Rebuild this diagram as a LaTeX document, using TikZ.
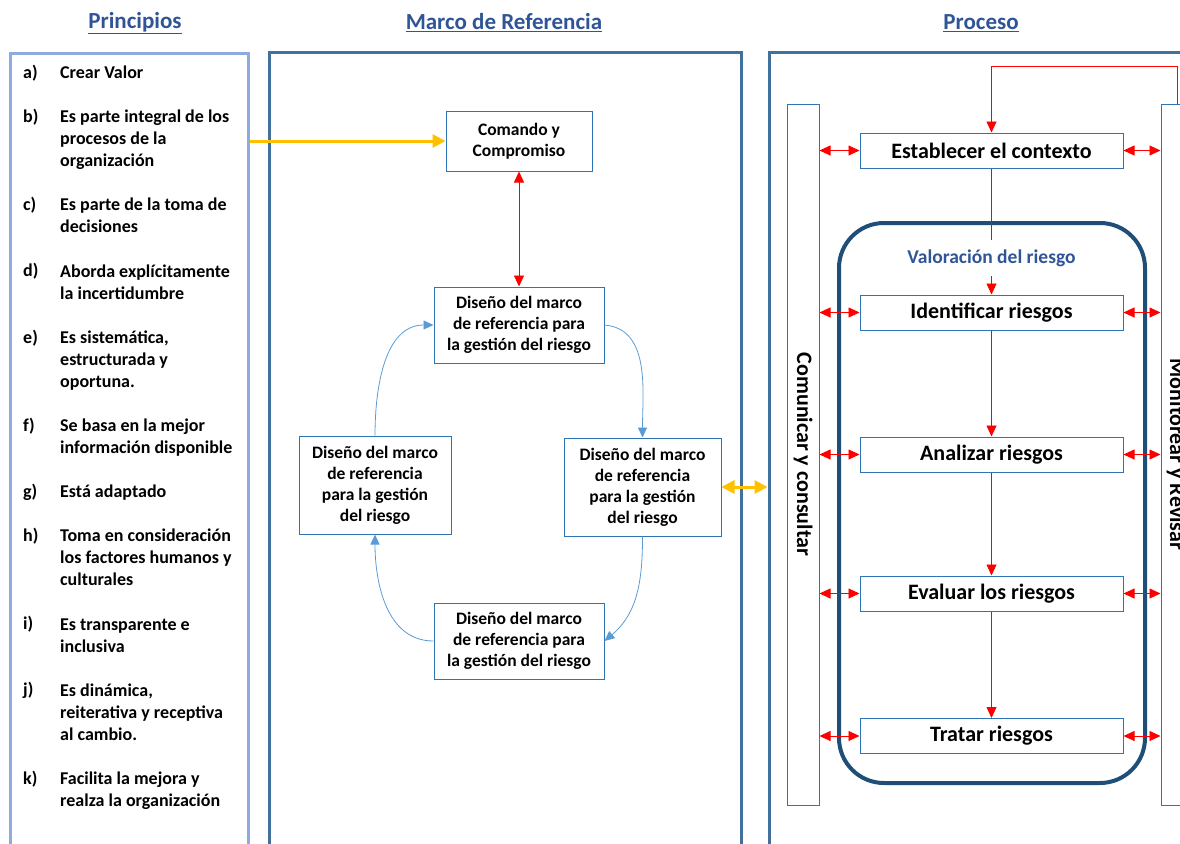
\documentclass[tikz,border=0pt]{standalone}
\usepackage{fontspec}
\setmainfont{Carlito}
\usepackage{tikz}
\usetikzlibrary{positioning, arrows.meta}

\definecolor{hdrblue}{HTML}{2F5597}
\definecolor{lightframe}{HTML}{8FAADC}
\definecolor{steelframe}{HTML}{41719C}
\definecolor{boxblue}{HTML}{2E75B6}
\definecolor{curveblue}{HTML}{5B9BD5}
\definecolor{valblue}{HTML}{1F4E79}
\definecolor{gold}{HTML}{FFC000}

\begin{document}
\begin{tikzpicture}[x=1pt, y=-1pt,
  header/.style={font=\fontsize{23}{28}\selectfont\bfseries, text=hdrblue},
  panel/.style={draw=steelframe, line width=3pt, inner sep=0pt},
  itemlbl/.style={anchor=base west, inner sep=0pt,
              font=\fontsize{18}{22.06}\selectfont\bfseries},
  itemtxt/.style={anchor=north west, inner sep=0pt, align=left,
              font=\fontsize{18}{22.06}\selectfont\bfseries},
  marco/.style={draw=boxblue, line width=1pt, align=center, inner sep=0pt,
              font=\fontsize{17.5}{21}\selectfont\bfseries},
  paso/.style={draw=boxblue, line width=1pt, minimum width=263pt,
              minimum height=35pt, inner sep=0pt,
              font=\fontsize{22}{26}\selectfont\bfseries},
  sidebox/.style={draw=boxblue, line width=1pt, minimum width=32pt,
              minimum height=701pt, inner sep=0pt},
  sidetext/.style={rotate=-90, font=\fontsize{22}{26}\selectfont\bfseries},
  redarr/.style={-{Triangle[length=11pt,width=10pt]}, red, line width=0.8pt},
  redboth/.style={{Triangle[length=11pt,width=10pt]}-{Triangle[length=11pt,width=10pt]},
              red, line width=0.8pt},
  cyc/.style={-{Triangle[length=10pt,width=9pt]}, curveblue, line width=0.8pt},
  goldarr/.style={-{Triangle[length=13pt,width=13pt]}, gold, line width=3pt},
  goldboth/.style={{Triangle[length=13pt,width=13pt]}-{Triangle[length=13pt,width=13pt]},
              gold, line width=3pt}
]
  \useasboundingbox (0,0) rectangle (1180,843);
  \clip (0,0) rectangle (1180,843);

  % Headers
  \node[header] (hp) at (135,23)  {\underline{Principios}};
  \node[header] (hm) at (504,23)  {\underline{Marco de Referencia}};
  \node[header] (hr) at (981,23)  {\underline{Proceso}};

  % Panels
  \node[panel, draw=lightframe, minimum width=238pt, minimum height=826pt] (pnl-p) at (129,467) {};
  \node[panel, minimum width=472pt, minimum height=827pt] (pnl-m) at (505,466.5) {};
  \node[panel, minimum width=451pt, minimum height=827pt] (pnl-r) at (994.5,466.5) {};

  % Principios
  \foreach \lbl/\n/\txt in {
    a/0/{Crear Valor},
    b/2/{Es parte integral de los\\procesos de la\\organización},
    c/6/{Es parte de la toma de\\decisiones},
    d/9/{Aborda explícitamente\\la incertidumbre},
    e/12/{Es sistemática,\\estructurada y\\oportuna.},
    f/16/{Se basa en la mejor\\información disponible},
    g/19/{Está adaptado},
    h/21/{Toma en consideración\\los factores humanos y\\culturales},
    i/25/{Es transparente e\\inclusiva},
    j/28/{Es dinámica,\\reiterativa y receptiva\\al cambio.},
    k/32/{Facilita la mejora y\\realza la organización}}{
    \node[itemlbl] (lbl-\lbl) at (23,{78.3+22.06*\n}) {\lbl)};
    \node[itemtxt] (txt-\lbl) at (60,{62.9+22.06*\n}) {\strut\txt};
  }

  % Marco de referencia
  \node[marco, minimum width=146pt, minimum height=60pt] (comando) at (519,141) {Comando y\\Compromiso};
  \node[marco, minimum width=170pt, minimum height=76pt] (dtop) at (519,325)
    {Diseño del marco\\de referencia para\\la gestión del riesgo};
  \node[marco, minimum width=157pt, minimum height=98pt] (dright) at (642.5,487)
    {Diseño del marco\\de referencia\\para la gestión\\del riesgo};
  \node[marco, minimum width=170pt, minimum height=76pt] (dbot) at (519,641)
    {Diseño del marco\\de referencia para\\la gestión del riesgo};
  \node[marco, minimum width=152pt, minimum height=98pt] (dleft) at (375,485)
    {Diseño del marco\\de referencia\\para la gestión\\del riesgo};

  \draw[redboth] (comando.south) -- (dtop.north);
  \draw[cyc] (dtop.east) to[out=-5, in=90] (dright.north);
  \draw[cyc] (dright.south) to[out=-90, in=40] (dbot.east);
  \draw[cyc] (dbot.west) to[out=180, in=-90] (dleft.south);
  \draw[cyc] (dleft.north) to[out=90, in=180] (dtop.west);

  \draw[goldarr] (pnl-p.east |- comando.west) -- (comando.west);
  \draw[goldboth] (dright.east) -- (dright.east -| pnl-r.west);

  % Proceso
  \node[sidebox] (com) at (803,454.5) {};
  \node[sidetext] at (com) {Comunicar y consultar};
  \node[sidebox] (mon) at (1177,454.5) {};
  \node[sidetext] at ([xshift=-1pt]mon.center) {Monitorear y Revisar};

  \node[draw=valblue, line width=4pt, rounded corners=45pt, minimum width=306pt,
    minimum height=560pt] (valbox) at (992,503) {};
  \node[font=\fontsize{19.5}{24}\selectfont\bfseries, text=hdrblue, minimum height=36pt,
    inner sep=0pt] (valo) at (991.5,258) {Valoración del riesgo};

  \node[paso] (est)   at (991.5,150.5) {Establecer el contexto};
  \node[paso] (ident) at (991.5,312.5) {Identificar riesgos};
  \node[paso] (anal)  at (991.5,454.5) {Analizar riesgos};
  \node[paso] (eval)  at (991.5,593.5) {Evaluar los riesgos};
  \node[paso] (trat)  at (991.5,736)   {Tratar riesgos};

  \foreach \s in {est, ident, anal, eval, trat}{
    \draw[redboth] (com.east |- \s.west) -- (\s.west);
    \draw[redboth] (\s.east) -- (mon.west |- \s.east);
  }

  \draw[red, line width=0.8pt] (est.south) -- (valo.north);
  \draw[redarr] (valo.south) -- (ident.north);
  \draw[redarr] (ident.south) -- (anal.north);
  \draw[redarr] (anal.south) -- (eval.north);
  \draw[redarr] (eval.south) -- (trat.north);
  \draw[redarr] (mon.north) -- ++(0,-37) -| (est.north);

\end{tikzpicture}
\end{document}
